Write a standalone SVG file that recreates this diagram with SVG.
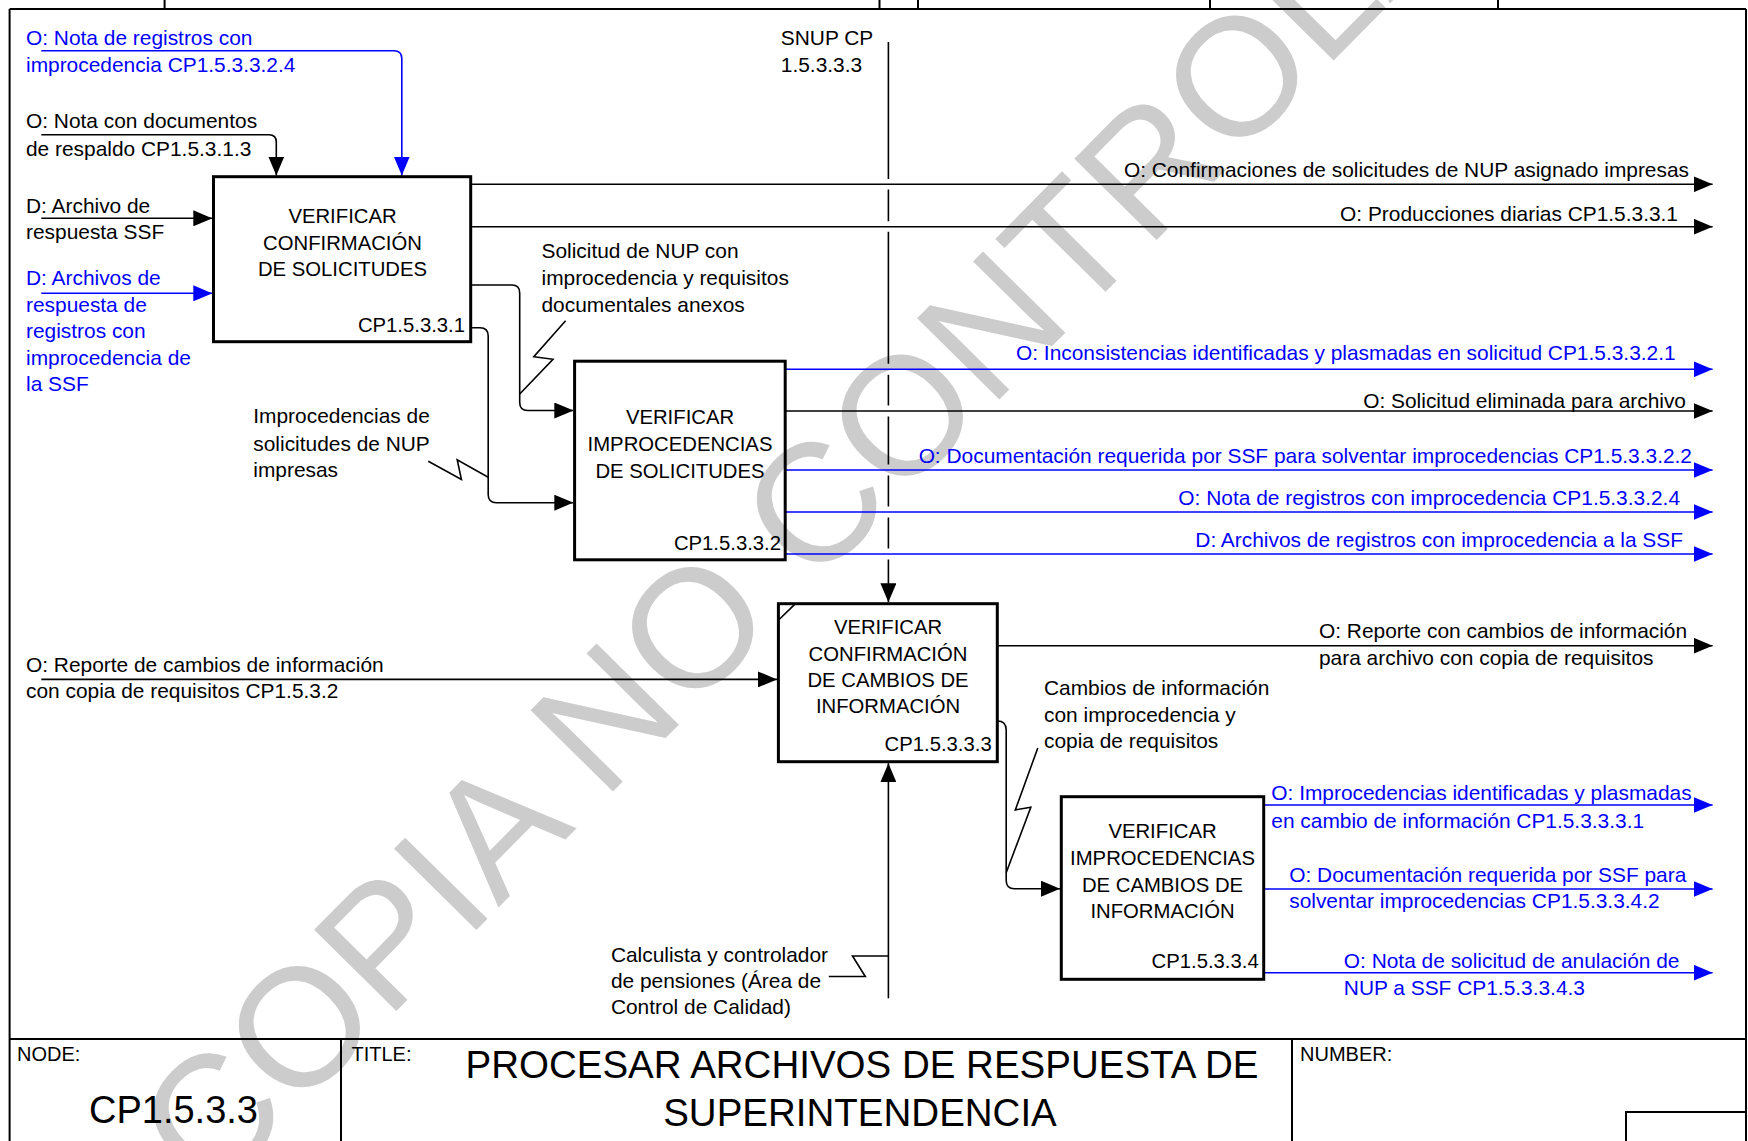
<svg xmlns="http://www.w3.org/2000/svg" width="1748" height="1141" viewBox="0 0 1748 1141">
<style>
.t{font-family:"Liberation Sans",Arial,sans-serif;font-size:20.9px;fill:#000}
.bx{font-size:20.3px}
.bl{fill:#0000ff}
.e{text-anchor:end}
.m{text-anchor:middle}
.ln{stroke:#000;stroke-width:1.6;fill:none}
.lb{stroke:#0000ff;stroke-width:1.6;fill:none}
.box{fill:none;stroke:#000;stroke-width:3}
.fr{stroke:#000;stroke-width:2;fill:none}
.wm{font-family:"Liberation Sans",Arial,sans-serif;font-size:168px;fill:#cccccc}
</style>
<defs>
<marker id="ak" viewBox="0 0 19 16" refX="19" refY="8" markerWidth="19" markerHeight="16" markerUnits="userSpaceOnUse" orient="auto"><path d="M0,0 L19,8 L0,16 Z" fill="#000"/></marker>
<marker id="ab" viewBox="0 0 19 16" refX="19" refY="8" markerWidth="19" markerHeight="16" markerUnits="userSpaceOnUse" orient="auto"><path d="M0,0 L19,8 L0,16 Z" fill="#0000ff"/></marker>
</defs>
<rect x="0" y="0" width="1748" height="1141" fill="#fff"/>
<text class="wm" transform="translate(209.8 1200.1) rotate(-45.4)">COPIA NO CONTROLADA</text>

<g id="frame">
<path class="fr" d="M9.6,9 H1746 M9.6,9 V1141 M1746,9 V1141 M9.6,1039 H1746 M341,1039 V1141 M1292,1039 V1141 M1626,1141 V1112 H1746"/>
<path class="fr" stroke-width="1.2" d="M164.6,0 V9 M879.5,0 V9 M918,0 V9 M1210,0 V9 M1498,0 V9"/>
<text class="t" x="17" y="1060.7" style="font-size:20px">NODE:</text>
<text class="t" x="89" y="1122.7" style="font-size:38px">CP1.5.3.3</text>
<text class="t" x="351.5" y="1061" style="font-size:20px">TITLE:</text>
<text class="t m" x="862" y="1078" style="font-size:38.5px">PROCESAR ARCHIVOS DE RESPUESTA DE</text>
<text class="t m" x="860" y="1126" style="font-size:38.5px">SUPERINTENDENCIA</text>
<text class="t" x="1300" y="1061" style="font-size:20px">NUMBER:</text>
</g>

<g id="connectors">
<path class="lb" marker-end="url(#ab)" d="M41.3,50.7 H394 Q401.8,50.7 401.8,58.5 V175.5"/>
<path class="ln" marker-end="url(#ak)" d="M41.3,134.7 H269 Q276.3,134.7 276.3,142 V175.5"/>
<path class="ln" marker-end="url(#ak)" d="M41.3,218.3 H212.3"/>
<path class="lb" marker-end="url(#ab)" d="M41.3,293.3 H212.3"/>
<path class="ln" marker-end="url(#ak)" d="M470.7,184.3 H1712.6"/>
<path class="ln" marker-end="url(#ak)" d="M470.7,226.7 H1712.6"/>
<path class="ln" marker-end="url(#ak)" d="M471.5,285 H512 Q519.7,285 519.7,293 V402.5 Q519.7,410.5 527.7,410.5 H573.3"/>
<path class="ln" d="M565.6,320.7 L533.8,356.7 L553,359.3 L519.7,394"/>
<path class="ln" marker-end="url(#ak)" d="M471.5,327.7 H480 Q488.2,327.7 488.2,336 V494.5 Q488.2,502.7 496.4,502.7 H573.3"/>
<path class="ln" d="M428.3,461.2 L461.4,479.4 L457.2,459.7 L488.2,477.2"/>
<path class="lb" marker-end="url(#ab)" d="M785,369.3 H1712.6"/>
<path class="ln" marker-end="url(#ak)" d="M785,411 H1712.6"/>
<path class="lb" marker-end="url(#ab)" d="M785,470 H1712.6"/>
<path class="lb" marker-end="url(#ab)" d="M785,512 H1712.6"/>
<path class="lb" marker-end="url(#ab)" d="M785,554 H1712.6"/>
<path class="ln" marker-end="url(#ak)" d="M888.4,42 V179 M888.4,189.5 V221.3 M888.4,231.8 V363.8 M888.4,374.8 V405.5 M888.4,416.5 V464.5 M888.4,475.5 V506.5 M888.4,517.5 V548.5 M888.4,559.5 V602.2"/>
<path class="ln" marker-end="url(#ak)" d="M41.3,679.4 H777"/>
<path class="ln" marker-end="url(#ak)" d="M997.3,645.7 H1712.6"/>
<path class="ln" marker-end="url(#ak)" d="M997.3,721 Q1006.2,721 1006.2,730 V880.5 Q1006.2,888.7 1014.4,888.7 H1060"/>
<path class="ln" d="M1037.8,748 L1015.3,809.9 L1030.8,807.2 L1006.2,872.8"/>
<path class="ln" marker-end="url(#ak)" d="M888.4,998.3 V763.2"/>
<path class="ln" d="M888.4,956 H852.5 L865.3,976.5 H828.8"/>
<path class="lb" marker-end="url(#ab)" d="M1263.7,805 H1712.6"/>
<path class="lb" marker-end="url(#ab)" d="M1263.7,889 H1712.6"/>
<path class="lb" marker-end="url(#ab)" d="M1263.7,972.7 H1712.6"/>
</g>

<g id="box1">
<rect class="box" x="213.5" y="176.7" width="257.2" height="165"/>
<text class="t m bx" x="342.5" y="222.7">VERIFICAR</text>
<text class="t m bx" x="342.5" y="250">CONFIRMACIÓN</text>
<text class="t m bx" x="342.5" y="276">DE SOLICITUDES</text>
<text class="t e bx" x="465" y="331.7">CP1.5.3.3.1</text>
</g>
<g id="box2">
<rect class="box" x="574.6" y="361.2" width="210.6" height="198.6"/>
<text class="t m bx" x="680" y="424">VERIFICAR</text>
<text class="t m bx" x="680" y="450.7">IMPROCEDENCIAS</text>
<text class="t m bx" x="680" y="477.7">DE SOLICITUDES</text>
<text class="t e bx" x="781" y="550">CP1.5.3.3.2</text>
</g>
<g id="box3">
<rect class="box" x="778.4" y="603.7" width="218.9" height="158"/>
<path class="ln" stroke-width="2.5" d="M778.6,620 L795.5,603.6"/>
<text class="t m bx" x="888" y="634">VERIFICAR</text>
<text class="t m bx" x="888" y="660.7">CONFIRMACIÓN</text>
<text class="t m bx" x="888" y="687.3">DE CAMBIOS DE</text>
<text class="t m bx" x="888" y="713.3">INFORMACIÓN</text>
<text class="t e bx" x="991.7" y="750.7">CP1.5.3.3.3</text>
</g>
<g id="box4">
<rect class="box" x="1061.3" y="796.7" width="202.4" height="182.6"/>
<text class="t m bx" x="1162.5" y="837.7">VERIFICAR</text>
<text class="t m bx" x="1162.5" y="865">IMPROCEDENCIAS</text>
<text class="t m bx" x="1162.5" y="892.3">DE CAMBIOS DE</text>
<text class="t m bx" x="1162.5" y="918.3">INFORMACIÓN</text>
<text class="t e bx" x="1258.7" y="968.3">CP1.5.3.3.4</text>
</g>

<g id="labels">
<text class="t bl" x="26" y="45">O: Nota de registros con</text>
<text class="t bl" x="26" y="71.7">improcedencia CP1.5.3.3.2.4</text>
<text class="t" x="26" y="128.3">O: Nota con documentos</text>
<text class="t" x="26" y="156">de respaldo CP1.5.3.1.3</text>
<text class="t" x="26" y="212.7">D: Archivo de</text>
<text class="t" x="26" y="239.3">respuesta SSF</text>
<text class="t bl" x="26" y="285">D: Archivos de</text>
<text class="t bl" x="26" y="311.7">respuesta de</text>
<text class="t bl" x="26" y="338.3">registros con</text>
<text class="t bl" x="26" y="365">improcedencia de</text>
<text class="t bl" x="26" y="390.7">la SSF</text>
<text class="t" x="26" y="671.7">O: Reporte de cambios de información</text>
<text class="t" x="26" y="698.3">con copia de requisitos CP1.5.3.2</text>
<text class="t" x="780.8" y="45">SNUP CP</text>
<text class="t" x="780.8" y="71.7">1.5.3.3.3</text>
<text class="t" x="541.5" y="258.3">Solicitud de NUP con</text>
<text class="t" x="541.5" y="285">improcedencia y requisitos</text>
<text class="t" x="541.5" y="311.7">documentales anexos</text>
<text class="t" x="253.3" y="423.3">Improcedencias de</text>
<text class="t" x="253.3" y="450.7">solicitudes de NUP</text>
<text class="t" x="253.3" y="477.3">impresas</text>
<text class="t" x="1044" y="695">Cambios de información</text>
<text class="t" x="1044" y="721.7">con improcedencia y</text>
<text class="t" x="1044" y="748.3">copia de requisitos</text>
<text class="t" x="610.9" y="961.7">Calculista y controlador</text>
<text class="t" x="610.9" y="988.3">de pensiones (Área de</text>
<text class="t" x="610.9" y="1014.3">Control de Calidad)</text>
<text class="t e" x="1689" y="176.7">O: Confirmaciones de solicitudes de NUP asignado impresas</text>
<text class="t e" x="1678" y="220.7">O: Producciones diarias CP1.5.3.3.1</text>
<text class="t bl e" x="1675.6" y="360">O: Inconsistencias identificadas y plasmadas en solicitud CP1.5.3.3.2.1</text>
<text class="t e" x="1686" y="408.3">O: Solicitud eliminada para archivo</text>
<text class="t bl e" x="1692" y="462.7">O: Documentación requerida por SSF para solventar improcedencias CP1.5.3.3.2.2</text>
<text class="t bl e" x="1680" y="505">O: Nota de registros con improcedencia CP1.5.3.3.2.4</text>
<text class="t bl e" x="1683" y="546.7">D: Archivos de registros con improcedencia a la SSF</text>
<text class="t" x="1319" y="638.3">O: Reporte con cambios de información</text>
<text class="t" x="1319" y="665">para archivo con copia de requisitos</text>
<text class="t bl" x="1271.3" y="800">O: Improcedencias identificadas y plasmadas</text>
<text class="t bl" x="1271.3" y="827.7">en cambio de información CP1.5.3.3.3.1</text>
<text class="t bl" x="1289.2" y="881.7">O: Documentación requerida por SSF para</text>
<text class="t bl" x="1289.2" y="908.3">solventar improcedencias CP1.5.3.3.4.2</text>
<text class="t bl" x="1343.8" y="968.3">O: Nota de solicitud de anulación de</text>
<text class="t bl" x="1343.8" y="995">NUP a SSF CP1.5.3.3.4.3</text>
</g>
</svg>
